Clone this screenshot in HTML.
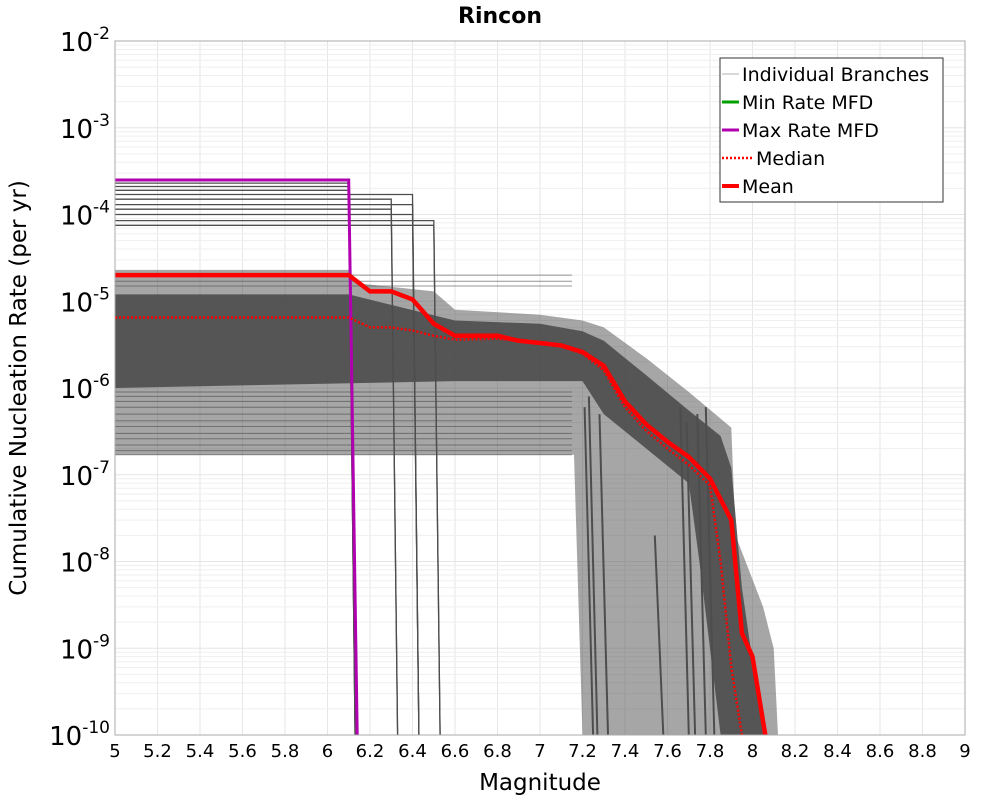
<!DOCTYPE html>
<html><head><meta charset="utf-8"><style>
body{margin:0;background:#fff;}
svg{display:block;font-family:"DejaVu Sans","Liberation Sans",sans-serif;}
</style></head><body>
<svg id="chart" width="1000" height="800" viewBox="0 0 1000 800" xmlns="http://www.w3.org/2000/svg">
<text x="500" y="23" text-anchor="middle" font-size="22" font-weight="bold">Rincon</text>
<g id="grid"></g>
<defs><clipPath id="clip"><rect x="115" y="41" width="850" height="694"/></clipPath></defs>
<g id="series" clip-path="url(#clip)"></g>
<rect x="115" y="41" width="850" height="694" fill="none" stroke="#aaa" stroke-width="1"/>
<g id="xticks"></g>
<g id="yticks"></g>
<text x="540" y="790" text-anchor="middle" font-size="23">Magnitude</text>
<text transform="translate(26,388) rotate(-90)" text-anchor="middle" font-size="23">Cumulative Nucleation Rate (per yr)</text>
<g>
<rect x="720" y="58" width="223" height="144" fill="#fff" stroke="#333" stroke-width="1"/>
<g><line x1="722" y1="74" x2="739" y2="74" stroke="#ccc" stroke-width="1.5"/><text x="742" y="81" font-size="19">Individual Branches</text></g>
<g><line x1="722" y1="102" x2="739" y2="102" stroke="#00a000" stroke-width="3"/><text x="742" y="109" font-size="19">Min Rate MFD</text></g>
<g><line x1="722" y1="130" x2="739" y2="130" stroke="#b000b0" stroke-width="3"/><text x="742" y="137" font-size="19">Max Rate MFD</text></g>
<g><line x1="722" y1="158" x2="752" y2="158" stroke="red" stroke-width="2.5" stroke-dasharray="2,2"/><text x="756" y="165" font-size="19">Median</text></g>
<g><line x1="722" y1="186" x2="739" y2="186" stroke="red" stroke-width="4"/><text x="742" y="193" font-size="19">Mean</text></g>
</g>
</svg>
<script>
const xTicks=[5,5.2,5.4,5.6,5.8,6,6.2,6.4,6.6,6.8,7,7.2,7.4,7.6,7.8,8,8.2,8.4,8.6,8.8,9];
const yExps=[-2,-3,-4,-5,-6,-7,-8,-9,-10];
const maxMfd=[[5,2.5e-4],[6.1,2.5e-4],[6.14,1e-10]];
const meanMfd=[[5,2e-5],[6.1,2e-5],[6.2,1.3e-5],[6.3,1.3e-5],[6.4,1.05e-5],[6.5,5.5e-6],[6.6,4e-6],[6.8,4e-6],[6.9,3.5e-6],[7.0,3.3e-6],[7.1,3.1e-6],[7.2,2.6e-6],[7.3,1.8e-6],[7.4,7e-7],[7.5,3.8e-7],[7.6,2.4e-7],[7.7,1.6e-7],[7.8,9e-8],[7.9,3e-8],[7.95,1.5e-9],[8.0,8e-10],[8.06,1e-10]];
const medianMfd=[[5,6.5e-6],[6.1,6.5e-6],[6.2,5e-6],[6.3,5e-6],[6.4,4.6e-6],[6.5,4e-6],[6.6,3.6e-6],[6.8,3.7e-6],[7.0,3.3e-6],[7.1,3e-6],[7.2,2.5e-6],[7.3,1.6e-6],[7.4,6e-7],[7.5,3.2e-7],[7.6,2e-7],[7.7,1.3e-7],[7.8,7.5e-8],[7.85,1e-8],[7.9,6e-10],[7.95,1e-10]];
const outerUpper=[[5,2.3e-5],[6.1,2.3e-5],[6.15,1.6e-5],[6.5,1.3e-5],[6.6,8e-6],[7.0,7e-6],[7.2,6e-6],[7.3,5e-6],[7.5,2.2e-6],[7.7,9e-7],[7.9,3.5e-7],[7.92,2e-8],[8.05,3e-9],[8.1,1e-9],[8.12,1e-10]];
const outerLower=[[7.2,1e-10],[7.16,1.7e-7],[5,1.7e-7]];
const coreUpper=[[5,1.2e-5],[6.1,1.2e-5],[6.6,6e-6],[7.0,5.5e-6],[7.2,4.5e-6],[7.3,3.5e-6],[7.5,1.4e-6],[7.7,5.5e-7],[7.85,2.8e-7],[7.9,1.2e-7],[7.95,5e-9],[8.05,1e-10]];
const coreLower=[[7.85,1e-10],[7.75,1e-8],[7.7,8e-8],[7.5,2e-7],[7.3,5e-7],[7.2,1.2e-6],[6.6,1.2e-6],[5,1e-6]];
const highLevels=[2.3e-4,2.1e-4,1.9e-4,1.7e-4,1.5e-4,1.3e-4,1.15e-4,1e-4,8.5e-5,7.5e-5];
const highEnds=[6.1,6.1,6.1,6.4,6.3,6.4,6.3,6.4,6.5,6.5];
const lowLevels=[9e-7,8e-7,7e-7,6e-7,5e-7,4.2e-7,3.6e-7,3e-7,2.6e-7,2.2e-7,1.9e-7,1.7e-7,2e-5,1.7e-5,1.5e-5];
const dropMags=[7.25,7.27,7.32,7.58,7.7,7.73,7.78,7.82];
const dropTops=[6e-7,8e-7,5e-7,2e-8,6e-7,4e-7,5e-7,6e-7];

const X=m=>115+(m-5)*212.5;
const Y=r=>41+(-2-Math.log10(r))*86.75;
const NS='http://www.w3.org/2000/svg';
function mk(tag,attrs,parent){const e=document.createElementNS(NS,tag);for(const k in attrs)e.setAttribute(k,attrs[k]);parent.appendChild(e);return e;}
const pts=a=>a.map(p=>X(p[0]).toFixed(1)+','+Y(p[1]).toFixed(1)).join(' ');
const grid=document.getElementById('grid'),ser=document.getElementById('series');
const xt=document.getElementById('xticks'),yt=document.getElementById('yticks');
xTicks.forEach(t=>{
 const l=mk('line',{x1:X(t),x2:X(t),y1:41,y2:735,stroke:'#e6e6e6','stroke-width':1},grid);
 
 
 const tx=mk('text',{x:X(t),y:757,'text-anchor':'middle','font-size':18},xt);
 tx.textContent=String(t);
 
 
});
yExps.forEach(e=>{
 const y=Y(Math.pow(10,e));
 for(let k=1;k<10&&e>-10;k++){
  const yy=Y(k*Math.pow(10,e-1));
  const g=mk('line',{x1:115,x2:965,y1:yy,y2:yy,stroke:k==1?'#e6e6e6':'#efefef','stroke-width':1},grid);
  
  
 }
 const tx=mk('text',{x:110,y:y+10,'text-anchor':'end','font-size':26},yt);
 tx.innerHTML='10<tspan dy="-12" font-size="17">'+e+'</tspan>';
 
 
});
const o=mk('polygon',{points:pts(outerUpper.concat(outerLower)),fill:'#4d4d4d','fill-opacity':0.5},ser);


const c=mk('polygon',{points:pts(coreUpper.concat(coreLower)),fill:'#4d4d4d','fill-opacity':0.9},ser);


lowLevels.forEach(v=>{
 const l=mk('polyline',{points:pts([[5,v],[7.15,v]]),fill:'none',stroke:'#4d4d4d','stroke-opacity':0.6,'stroke-width':1},ser);
 
 
});
highLevels.forEach((v,i)=>{
 const l=mk('polyline',{points:pts([[5,v],[highEnds[i],v],[highEnds[i]+0.03,1e-10]]),fill:'none',stroke:'#4d4d4d','stroke-width':1.3},ser);
 
 
});
dropMags.forEach((m,i)=>{
 const l=mk('polyline',{points:pts([[m-0.04,dropTops[i]],[m,1e-10]]),fill:'none',stroke:'#4d4d4d','stroke-width':2},ser);
 
 
});
const mx=mk('polyline',{points:pts(maxMfd),fill:'none',stroke:'#b000b0','stroke-width':3},ser);


const md=mk('polyline',{points:pts(medianMfd),fill:'none',stroke:'red','stroke-width':2.5,'stroke-dasharray':'2,2'},ser);


const mn=mk('polyline',{points:pts(meanMfd),fill:'none',stroke:'red','stroke-width':4.5},ser);


</script>
</body></html>
